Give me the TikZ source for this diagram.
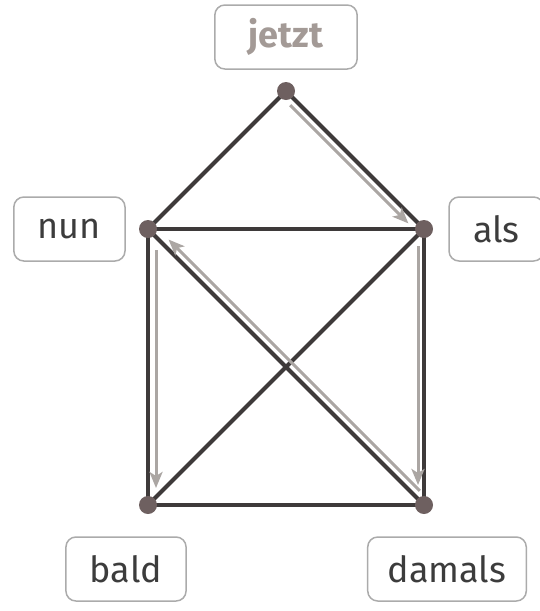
\documentclass[tikz,border=0pt]{standalone}
\usepackage{fontspec}
\setmainfont{Fira Sans}
\usetikzlibrary{arrows.meta,positioning,backgrounds}
\definecolor{edgegray}{HTML}{3E3A3A}
\definecolor{dotbrown}{HTML}{6E6060}
\definecolor{walkgray}{HTML}{ABA6A3}
\definecolor{boxgray}{HTML}{ABABAB}
\definecolor{wordgray}{HTML}{3C3C3C}
\definecolor{startgray}{HTML}{A39A96}
\begin{document}
\begin{tikzpicture}[x=69pt,y=69pt,
        dot/.style={circle,fill=dotbrown,minimum size=18pt,inner sep=0pt,outer sep=0pt},
        word/.style={draw=boxgray,line width=1.5pt,rounded corners=10pt,outer sep=0pt,
            minimum height=64pt,inner xsep=24pt,text=wordgray,font=\fontsize{36}{40}\selectfont},
        edge/.style={line width=4pt,draw=edgegray},
        walk/.style={line width=3pt,draw=walkgray,-{Stealth[length=16pt,width=13pt,inset=4pt]}}]
    \useasboundingbox (-2.145,-1.536) rectangle (5.667,7.319);
    % corners of the house
    \node[dot] (j) at (2,6) {};
    \node[dot] (n) at (0,4) {};
    \node[dot] (a) at (4,4) {};
    \node[dot] (b) at (0,0) {};
    \node[dot] (d) at (4,0) {};
    % labels
    \node[word,above=13pt of j,inner xsep=34pt,text=startgray,font=\fontsize{36}{40}\selectfont\bfseries] (jetzt) {jetzt};
    \node[word,left=14pt of n] (nun) {nun};
    \node[word,right=16pt of a] (als) {als};
    \node[word,below=23pt of b,xshift=-22pt] (bald) {bald};
    \node[word,below=23pt of d,xshift=23pt,inner xsep=20pt] (damals) {damals};
    \begin{scope}[on background layer]
        \foreach \p/\q in {j/n,j/a,n/a,n/b,a/d,b/d,n/d,a/b}
            \draw[edge] (\p.center) -- (\q.center);
        % the way round
        \draw[walk,transform canvas={shift={(-5pt,-5pt)}},shorten <=13pt,shorten >=15pt] (j.center) -- (a.center);
        \draw[walk,transform canvas={shift={(-6pt,0pt)}},shorten <=17pt,shorten >=20pt] (a.center) -- (d.center);
        \draw[walk,transform canvas={shift={(5pt,5pt)}},shorten <=13pt,shorten >=22pt] (d.center) -- (n.center);
        \draw[walk,transform canvas={shift={(8pt,0pt)}},shorten <=21pt,shorten >=17pt] (n.center) -- (b.center);
    \end{scope}
\end{tikzpicture}
\end{document}
